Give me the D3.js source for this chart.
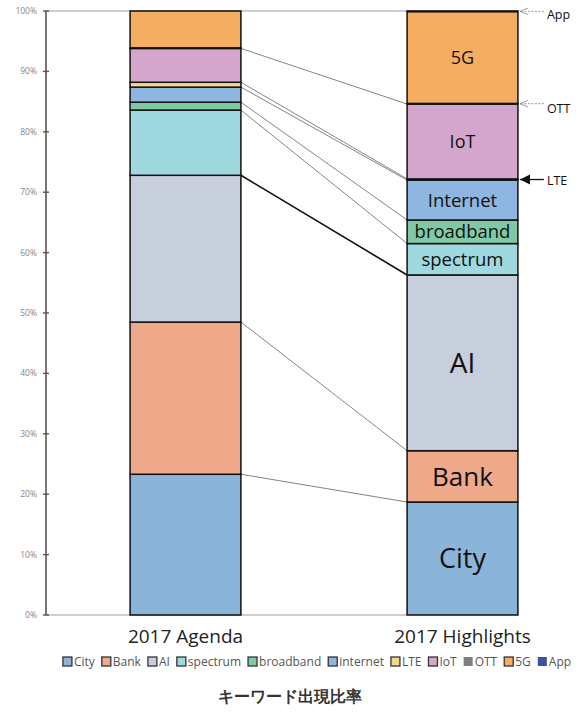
<!DOCTYPE html>
<html>
<head>
<meta charset="utf-8">
<script src="https://cdn.jsdelivr.net/npm/d3@7"></script>
<style>
  body { margin: 0; background: #fff; }
  text { font-family: "Open Sans", "Noto Sans", sans-serif; }
</style>
</head>
<body>
<svg id="svg" width="579" height="713"></svg>
<script>
// カテゴリとキーワード
const categories = ["2017 Agenda", "2017 Highlights"];
const keywords = ["City", "Bank", "AI", "spectrum", "broadband", "internet", "LTE", "IoT", "OTT", "5G", "App"];
const agendaValues = [23.3, 25.2, 24.3, 10.8, 1.3, 2.5, 0.8, 5.6, 0.1, 6.1, 0.0];
const highlightValues = [18.7, 8.5, 29.1, 5.2, 3.9, 6.6, 0.2, 12.4, 0.1, 15.2, 0.1];
const colors = ["#8ab4d8", "#eda98a", "#c8cfdc", "#a0d8df", "#80c9a6", "#8fb6e0", "#f3d98c", "#d5a6cc", "#7f7f7f", "#f5ad62", "#3f4fa0"];
const yTicks = [0, 10, 20, 30, 40, 50, 60, 70, 80, 90, 100];
// 右の棒の中のラベル (フォントサイズ)
const barLabels = { "City": 27, "Bank": 26, "AI": 28, "spectrum": 18.5, "broadband": 18.5, "internet": 18.5, "IoT": 18, "5G": 18 };
const labelText = { "internet": "Internet" };
// 小さい値の注記
const notes = [
  { key: "App", dash: true, dy: 3 },
  { key: "OTT", dash: true, dy: 5 },
  { key: "LTE", dash: false, dy: 1 }
];
const title = "キーワード出現比率";

const svg = d3.select("#svg");

const rows = categories.map((c, i) => {
  const r = { cat: c };
  keywords.forEach((k, j) => r[k] = (i === 0 ? agendaValues : highlightValues)[j]);
  return r;
});
const series = d3.stack().keys(keywords)(rows);

const x = d3.scaleBand().domain(categories).range([47, 601]).paddingInner(0.6).paddingOuter(0.3);
const y = d3.scaleLinear().domain([0, 100]).range([615, 11]);
const color = d3.scaleOrdinal().domain(keywords).range(colors);

// 100% ライン と 0% ライン
svg.append("line")
  .attr("x1", 46).attr("x2", x(categories[1]) + x.bandwidth())
  .attr("y1", y(100)).attr("y2", y(100))
  .attr("stroke", "#a89c9c").attr("stroke-width", 1.2);
svg.append("line")
  .attr("x1", 46).attr("x2", x(categories[1]))
  .attr("y1", y(0)).attr("y2", y(0))
  .attr("stroke", "#a89c9c").attr("stroke-width", 1.2);

// 軸
const axis = svg.append("g").attr("transform", "translate(46,0)");
axis.append("line").attr("y1", y(0)).attr("y2", y(100)).attr("stroke", "#5e5252").attr("stroke-width", 1.6);
axis.selectAll("line.tick").data(yTicks).enter().append("line")
  .attr("class", "tick")
  .attr("x1", -3).attr("x2", 3)
  .attr("y1", d => y(d)).attr("y2", d => y(d))
  .attr("stroke", "#5e5252").attr("stroke-width", 1.4);
axis.selectAll("text").data(yTicks).enter().append("text")
  .attr("x", -9).attr("y", d => y(d)).attr("dy", "0.35em")
  .attr("text-anchor", "end")
  .attr("font-size", 8.5).attr("fill", "#8c8484")
  .text(d => d + "%");

// 接続線
const linkKeys = ["City", "Bank", "AI", "spectrum", "broadband", "internet", "LTE", "IoT"];
svg.selectAll("line.link").data(series.filter(s => linkKeys.includes(s.key))).enter()
  .append("line")
  .attr("class", "link")
  .attr("x1", x(categories[0]) + x.bandwidth())
  .attr("x2", x(categories[1]))
  .attr("y1", d => y(d[0][1]))
  .attr("y2", d => y(d[1][1]))
  .attr("stroke", d => d.key === "AI" ? "#111" : "#8f8080")
  .attr("stroke-width", d => d.key === "AI" ? 1.6 : 1);

// 積み上げ棒
const layer = svg.selectAll("g.layer").data(series).enter().append("g")
  .attr("class", "layer").attr("fill", d => color(d.key));
layer.selectAll("rect").data(d => d.filter(v => v[1] - v[0] > 0)).enter().append("rect")
  .attr("x", d => x(d.data.cat))
  .attr("y", d => y(d[1]))
  .attr("width", x.bandwidth())
  .attr("height", d => y(d[0]) - y(d[1]))
  .attr("stroke", "#111").attr("stroke-width", 1.5);

// 右の棒のラベル
series.filter(s => barLabels[s.key]).forEach(s => {
  const d = s[1];
  svg.append("text")
    .attr("x", x(categories[1]) + x.bandwidth() / 2)
    .attr("y", y((d[0] + d[1]) / 2))
    .attr("dy", "0.36em")
    .attr("text-anchor", "middle")
    .attr("font-size", barLabels[s.key])
    .attr("fill", "#111")
    .text(labelText[s.key] || s.key);
});

// 注記の矢印
const defs = svg.append("defs");
defs.append("marker").attr("id", "open").attr("viewBox", "0 -5 10 10")
  .attr("refX", 10).attr("refY", 0).attr("markerWidth", 8).attr("markerHeight", 8)
  .attr("orient", "auto")
  .append("path").attr("d", "M0,-4L10,0L0,4").attr("fill", "none").attr("stroke", "#999").attr("stroke-width", 1.2);
defs.append("marker").attr("id", "solid").attr("viewBox", "0 -5 10 10")
  .attr("refX", 10).attr("refY", 0).attr("markerWidth", 8).attr("markerHeight", 8)
  .attr("orient", "auto")
  .append("path").attr("d", "M0,-5L10,0L0,5Z").attr("fill", "#111");

const xr = x(categories[1]) + x.bandwidth();
notes.forEach(n => {
  const s = series.find(d => d.key === n.key)[1];
  const yy = y((s[0] + s[1]) / 2);
  svg.append("line")
    .attr("x1", xr + 26).attr("x2", xr + 2)
    .attr("y1", yy).attr("y2", yy)
    .attr("stroke", n.dash ? "#999" : "#111")
    .attr("stroke-width", n.dash ? 1 : 1.3)
    .attr("stroke-dasharray", n.dash ? "2,1.5" : null)
    .attr("marker-end", n.dash ? "url(#open)" : "url(#solid)");
  svg.append("text")
    .attr("x", xr + 29).attr("y", yy + n.dy).attr("dy", "0.35em")
    .attr("font-size", 12.5).attr("fill", "#111")
    .text(n.key);
});

// カテゴリラベル
svg.selectAll("text.cat").data(categories).enter().append("text")
  .attr("class", "cat")
  .attr("x", d => x(d) + x.bandwidth() / 2)
  .attr("y", 643)
  .attr("text-anchor", "middle")
  .attr("font-size", 19).attr("fill", "#222")
  .text(d => d);

// 凡例
const legend = svg.append("g");
let lx = 0;
const items = legend.selectAll("g").data(keywords).enter().append("g");
items.append("rect").attr("width", 9).attr("height", 9).attr("y", -9)
  .attr("fill", d => color(d))
  .attr("stroke", d => (d === "OTT" || d === "App") ? "none" : "#333").attr("stroke-width", 1.3);
items.append("text").attr("x", 11).attr("font-size", 12).attr("fill", "#555").text(d => d);
items.each(function() {
  const g = d3.select(this);
  g.attr("transform", `translate(${lx},0)`);
  lx += 11 + g.select("text").node().getComputedTextLength() + 7;
});
legend.attr("transform", `translate(${317 - (lx - 7) / 2},666)`);

// タイトル
svg.append("text")
  .attr("x", 290).attr("y", 702)
  .attr("text-anchor", "middle")
  .attr("font-family", "Noto Sans CJK JP")
  .attr("font-size", 15.5).attr("font-weight", 700).attr("fill", "#333")
  .text(title);
</script>
</body>
</html>
